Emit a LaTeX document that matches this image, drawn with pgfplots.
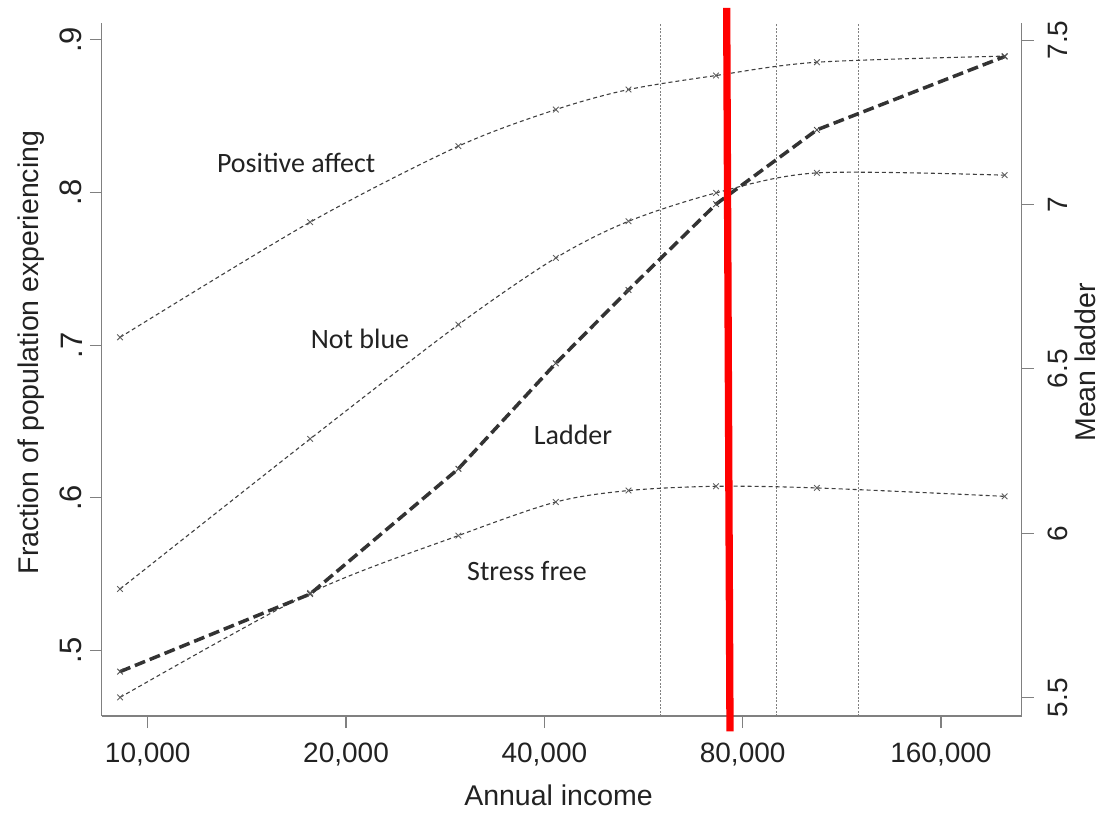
\documentclass[border=0pt]{standalone}
\usepackage{pgfplots}
\pgfplotsset{compat=1.18}
\usepackage{pgfplotstable}
\usepackage{fontspec}
\setmainfont{Liberation Sans}
\newfontfamily\calib{Carlito}
\definecolor{axgray}{HTML}{808080}
\definecolor{linegray}{HTML}{404040}
\definecolor{markgray}{HTML}{606060}
\definecolor{txt}{HTML}{222222}

\pgfplotstableread{
inc      pos     notblue  stress   ladder
9078     0.7051  0.5402   0.4692   5.579
17640    0.7805  0.6385   0.5376   5.815
29620    0.8303  0.7134   0.5752   6.196
41640    0.8543  0.7571   0.5972   6.517
53680    0.8674  0.7811   0.6047   6.740
72900    0.8766  0.7997   0.6075   7.001
103700   0.8853  0.8128   0.6064   7.227
199900   0.8893  0.8113   0.6009   7.450
}\data

\begin{document}
\begin{tikzpicture}
\path[use as bounding box] (-101.7pt,-96pt) rectangle (1001.3pt,716pt);
\begin{axis}[
  width=920pt, height=693pt, scale only axis,
  at={(0pt,0pt)}, anchor=south west,
  xmode=log, log basis x=2,
  xmin=8514, xmax=212200,
  axis line style={axgray, line width=1.2pt, -},
  tick style={axgray, line width=1.1pt},
  major tick length=12pt, tick align=outside,
  axis x line*=bottom, axis y line*=left,
  ymin=0.457, ymax=0.911,
  xtick={10000,20000,40000,80000,160000},
  xticklabels={{10,000},{20,000},{40,000},{80,000},{160,000}},
  xticklabel style={font=\fontsize{28}{30}\selectfont, text=txt, yshift=-11pt},
  ytick={0.5,0.6,0.7,0.8,0.9},
  yticklabels={.5,.6,.7,.8,.9},
  yticklabel style={font=\fontsize{31}{33}\selectfont, text=txt, xshift=-4pt, rotate=90, anchor=south},
  xlabel={Annual income},
  xlabel style={font=\fontsize{28.5}{30}\selectfont, text=txt,
    at={(axis description cs:0.4965,-0.094)}, anchor=north},
  ylabel={Fraction of population experiencing},
  ylabel style={font=\fontsize{28.5}{30}\selectfont, text=txt,
    at={(axis description cs:-0.0589,0.5245)}, anchor=south},
  clip=false,
]
\addplot[axgray, line width=0.9pt, dash pattern=on 2pt off 1.5pt] coordinates {(60000,0.457) (60000,0.911)};
\addplot[axgray, line width=0.9pt, dash pattern=on 2pt off 1.5pt] coordinates {(90000,0.457) (90000,0.911)};
\addplot[axgray, line width=0.9pt, dash pattern=on 2pt off 1.5pt] coordinates {(120000,0.457) (120000,0.911)};
\addplot[linegray, line width=1.1pt, dash pattern=on 4pt off 3pt, smooth,
    mark=x, mark size=4pt, mark options={solid, markgray, line width=0.9pt}] table[x=inc, y=pos] {\data};
\addplot[linegray, line width=1.1pt, dash pattern=on 4pt off 3pt, smooth,
    mark=x, mark size=4pt, mark options={solid, markgray, line width=0.9pt}] table[x=inc, y=notblue] {\data};
\addplot[linegray, line width=1.1pt, dash pattern=on 4pt off 3pt, smooth,
    mark=x, mark size=4pt, mark options={solid, markgray, line width=0.9pt}] table[x=inc, y=stress] {\data};
\node[font=\calib\fontsize{28}{30}\selectfont, text=txt] at (axis cs:16800,0.8196) {Positive affect};
\node[font=\calib\fontsize{28}{30}\selectfont, text=txt] at (axis cs:21000,0.7043) {Not blue};
\node[font=\calib\fontsize{28}{30}\selectfont, text=txt] at (axis cs:44220,0.6414) {Ladder};
\node[font=\calib\fontsize{28}{30}\selectfont, text=txt] at (axis cs:37650,0.5518) {Stress free};
\end{axis}
\begin{axis}[
  width=920pt, height=693pt, scale only axis,
  at={(0pt,0pt)}, anchor=south west,
  xmode=log, log basis x=2,
  xmin=8514, xmax=212200,
  axis line style={axgray, line width=1.2pt, -},
  tick style={axgray, line width=1.1pt},
  major tick length=12pt, tick align=outside,
  axis x line=none, axis y line*=right,
  ymin=5.444, ymax=7.552,
  ytick={5.5,6,6.5,7,7.5},
  yticklabels={5.5,6,6.5,7,7.5},
  yticklabel style={font=\fontsize{28}{30}\selectfont, text=txt, rotate=90},
  yticklabel shift=11pt,
  ylabel={Mean ladder},
  ylabel style={font=\fontsize{28.5}{30}\selectfont, text=txt,
    at={(axis description cs:1.0543,0.5101)}, anchor=north},
  clip=false,
]
\addplot[black!80, line width=3.5pt, dash pattern=on 11pt off 5pt,
  mark=x, mark size=4pt, mark options={solid, black!70, line width=0.9pt}]
  table[x=inc, y=ladder] {\data};
\addplot[red, line width=7.3pt] coordinates {(75660,7.598) (76540,5.397)};
\end{axis}
\end{tikzpicture}
\end{document}
